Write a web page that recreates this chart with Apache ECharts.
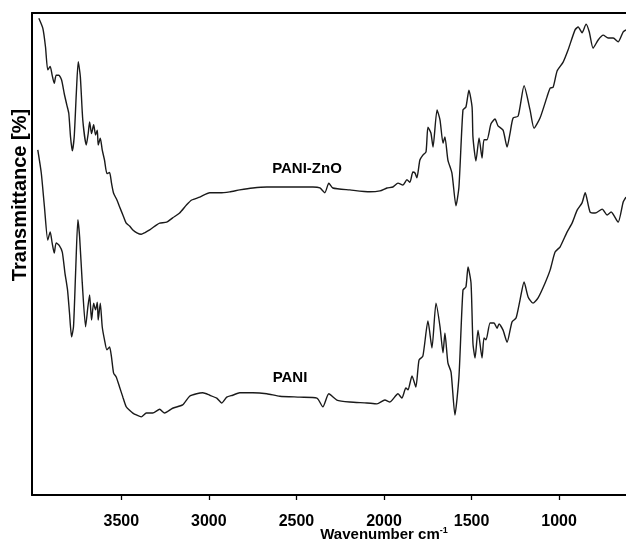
<!DOCTYPE html>
<html>
<head>
<meta charset="utf-8">
<script src="https://cdn.jsdelivr.net/npm/echarts@6/dist/echarts.min.js"></script>
<style>html,body{margin:0;padding:0;background:#fff}#c{width:626px;height:544px}</style>
</head>
<body>
<div id="c"></div>
<script>
// Wavenumber (cm-1) and relative transmittance readings
const zno_wn = [3971,3948,3933,3920,3906,3895,3883,3872,3857,3841,3826,3811,3800,3790,3780,3769,3757,3746,3734,3720,3700,3689,3681,3670,3658,3647,3637,3632,3620,3609,3596,3582,3567,3556,3544,3525,3510,3491,3472,3453,3434,3411,3386,3367,3338,3300,3281,3241,3207,3167,3127,3098,3052,2995,2938,2881,2824,2749,2669,2578,2481,2406,2366,2338,2315,2292,2195,2081,2023,1983,1949,1920,1892,1869,1852,1835,1823,1812,1795,1778,1760,1749,1732,1720,1697,1680,1663,1652,1635,1612,1589,1572,1549,1532,1515,1497,1492,1475,1457,1440,1429,1412,1389,1366,1349,1320,1297,1280,1263,1234,1200,1166,1143,1109,1069,1051,1034,1011,977,949,909,891,869,846,828,806,777,748,720,691,663,634,618];
const zno_t = [98.9,96.8,93.0,88.2,88.9,87.1,85.4,87.1,87.1,86.1,83.3,80.9,79.2,74.3,71.4,74.3,83.3,89.9,86.8,77.8,72.6,75.0,77.4,75.0,76.8,74.7,75.7,72.6,74.0,71.6,69.5,66.7,66.9,64.7,62.6,61.2,59.8,58.1,56.4,55.8,55.0,54.4,54.1,54.4,55.0,56.0,56.4,56.6,57.5,58.5,60.2,61.2,61.8,62.7,62.7,62.9,63.3,63.7,63.9,63.9,63.9,63.9,63.7,62.7,64.7,63.7,63.3,62.9,63.1,63.7,63.9,64.7,64.3,65.4,64.9,67.0,66.8,65.8,69.5,70.5,71.2,76.3,75.1,72.2,79.9,77.8,73.0,74.3,69.5,66.8,60.0,63.9,79.9,80.5,84.0,80.5,74.3,69.3,74.1,69.9,73.7,73.7,77.0,78.0,76.6,75.7,72.2,75.1,78.2,78.6,84.9,79.9,76.1,78.2,82.6,84.4,84.6,88.0,89.8,92.3,96.5,97.1,95.9,97.7,96.1,92.7,94.4,95.4,94.8,94.8,94.0,96.1,96.5];

const pani_wn = [3977,3957,3939,3920,3906,3895,3883,3872,3853,3837,3822,3807,3796,3784,3773,3761,3748,3738,3723,3704,3691,3681,3670,3658,3647,3637,3632,3620,3609,3596,3582,3567,3556,3544,3529,3510,3491,3472,3453,3434,3414,3386,3357,3321,3281,3253,3207,3150,3110,3070,3035,2995,2955,2927,2898,2864,2824,2749,2669,2595,2481,2383,2349,2315,2269,2195,2098,2040,1995,1966,1920,1898,1875,1863,1840,1818,1800,1778,1749,1726,1703,1680,1663,1652,1635,1617,1595,1572,1549,1532,1520,1503,1492,1480,1463,1440,1429,1417,1394,1372,1354,1343,1320,1297,1269,1246,1223,1200,1177,1149,1120,1080,1051,1023,994,954,926,897,869,851,823,794,754,726,703,663,634,618];
const pani_t = [71.6,66.8,59.8,52.9,54.6,52.3,50.2,52.3,51.7,50.4,46.1,42.5,37.8,32.8,34.9,46.1,57.1,53.5,44.0,34.9,39.0,41.5,36.3,39.8,38.4,40.0,36.3,39.8,34.9,32.2,30.1,30.7,28.6,25.3,24.5,22.4,20.3,18.3,17.6,17.0,16.6,16.2,17.0,17.0,17.8,17.0,18.0,18.7,20.5,21.0,21.2,20.7,20.1,19.1,20.3,20.7,21.2,21.2,21.0,20.5,20.3,20.1,18.3,21.0,19.7,19.3,19.1,18.9,19.7,19.3,21.0,20.1,22.2,21.8,24.7,22.4,28.0,28.8,36.1,30.5,39.8,34.9,29.5,33.6,27.4,25.5,16.6,24.5,42.5,43.2,47.3,44.0,31.5,28.4,34.2,28.4,32.6,32.2,35.7,35.7,34.6,35.5,34.2,31.7,35.9,36.7,40.5,44.2,41.1,39.8,40.9,44.0,46.7,50.4,51.5,54.6,56.4,59.1,60.6,62.7,58.7,58.5,59.3,58.1,58.7,56.6,60.8,61.8];

const tickValues = [3500, 3000, 2500, 2000, 1500, 1000];
const seriesNames = ['PANI-ZnO', 'PANI'];

const zip = (a, b) => a.map((v, i) => [v, b[i]]);
const FONT = 'Arial, "Liberation Sans", sans-serif';
const chart = echarts.init(document.getElementById('c'), null, {renderer: 'canvas'});
const lineStyle = {color: '#1a1a1a', width: 1.4};
chart.setOption({
  animation: false,
  backgroundColor: '#fff',
  grid: {left: 32, top: 13, right: 0, bottom: 49},
  xAxis: [{
    type: 'value', inverse: true, min: 618, max: 4010, position: 'bottom',
    axisLine: {show: true, onZero: false, lineStyle: {color: '#000', width: 2}},
    axisTick: {show: true, length: 5, lineStyle: {color: '#000', width: 1.3}, customValues: tickValues},
    axisLabel: {customValues: tickValues, formatter: v => String(v), margin: 19, color: '#000', fontFamily: FONT, fontWeight: 'bold', fontSize: 16},
    splitLine: {show: false}
  }, {
    type: 'value', inverse: true, min: 618, max: 4010, position: 'top',
    axisLine: {show: true, onZero: false, lineStyle: {color: '#000', width: 2}},
    axisTick: {show: false}, axisLabel: {show: false}, splitLine: {show: false}
  }],
  yAxis: {
    type: 'value', min: 0, max: 100,
    axisLine: {show: true, onZero: false, lineStyle: {color: '#000', width: 2}},
    axisTick: {show: false}, axisLabel: {show: false}, splitLine: {show: false}
  },
  series: [
    {name: seriesNames[0], type: 'line', data: zip(zno_wn, zno_t), showSymbol: false, smooth: 0.2, lineStyle: lineStyle},
    {name: seriesNames[1], type: 'line', data: zip(pani_wn, pani_t), showSymbol: false, smooth: 0.2, lineStyle: lineStyle}
  ],
  graphic: [
    {type: 'text', x: 384, y: 535, style: {text: 'Wavenumber cm{s|-1}', align: 'center', verticalAlign: 'middle', font: 'bold 15px ' + FONT, fill: '#000', rich: {s: {fontSize: 9, fontWeight: 'bold', fontFamily: FONT, verticalAlign: 'top', padding: [0, 0, 8, 0]}}}},
    {type: 'text', x: 20, y: 195, rotation: Math.PI / 2, style: {text: 'Transmittance [%]', align: 'center', verticalAlign: 'middle', font: 'bold 20px ' + FONT, fill: '#000'}},
    {type: 'text', x: 307, y: 169, style: {text: seriesNames[0], align: 'center', verticalAlign: 'middle', font: 'bold 15px ' + FONT, fill: '#000'}},
    {type: 'text', x: 290, y: 378, style: {text: seriesNames[1], align: 'center', verticalAlign: 'middle', font: 'bold 15px ' + FONT, fill: '#000'}}
  ]
});
</script>
</body>
</html>
